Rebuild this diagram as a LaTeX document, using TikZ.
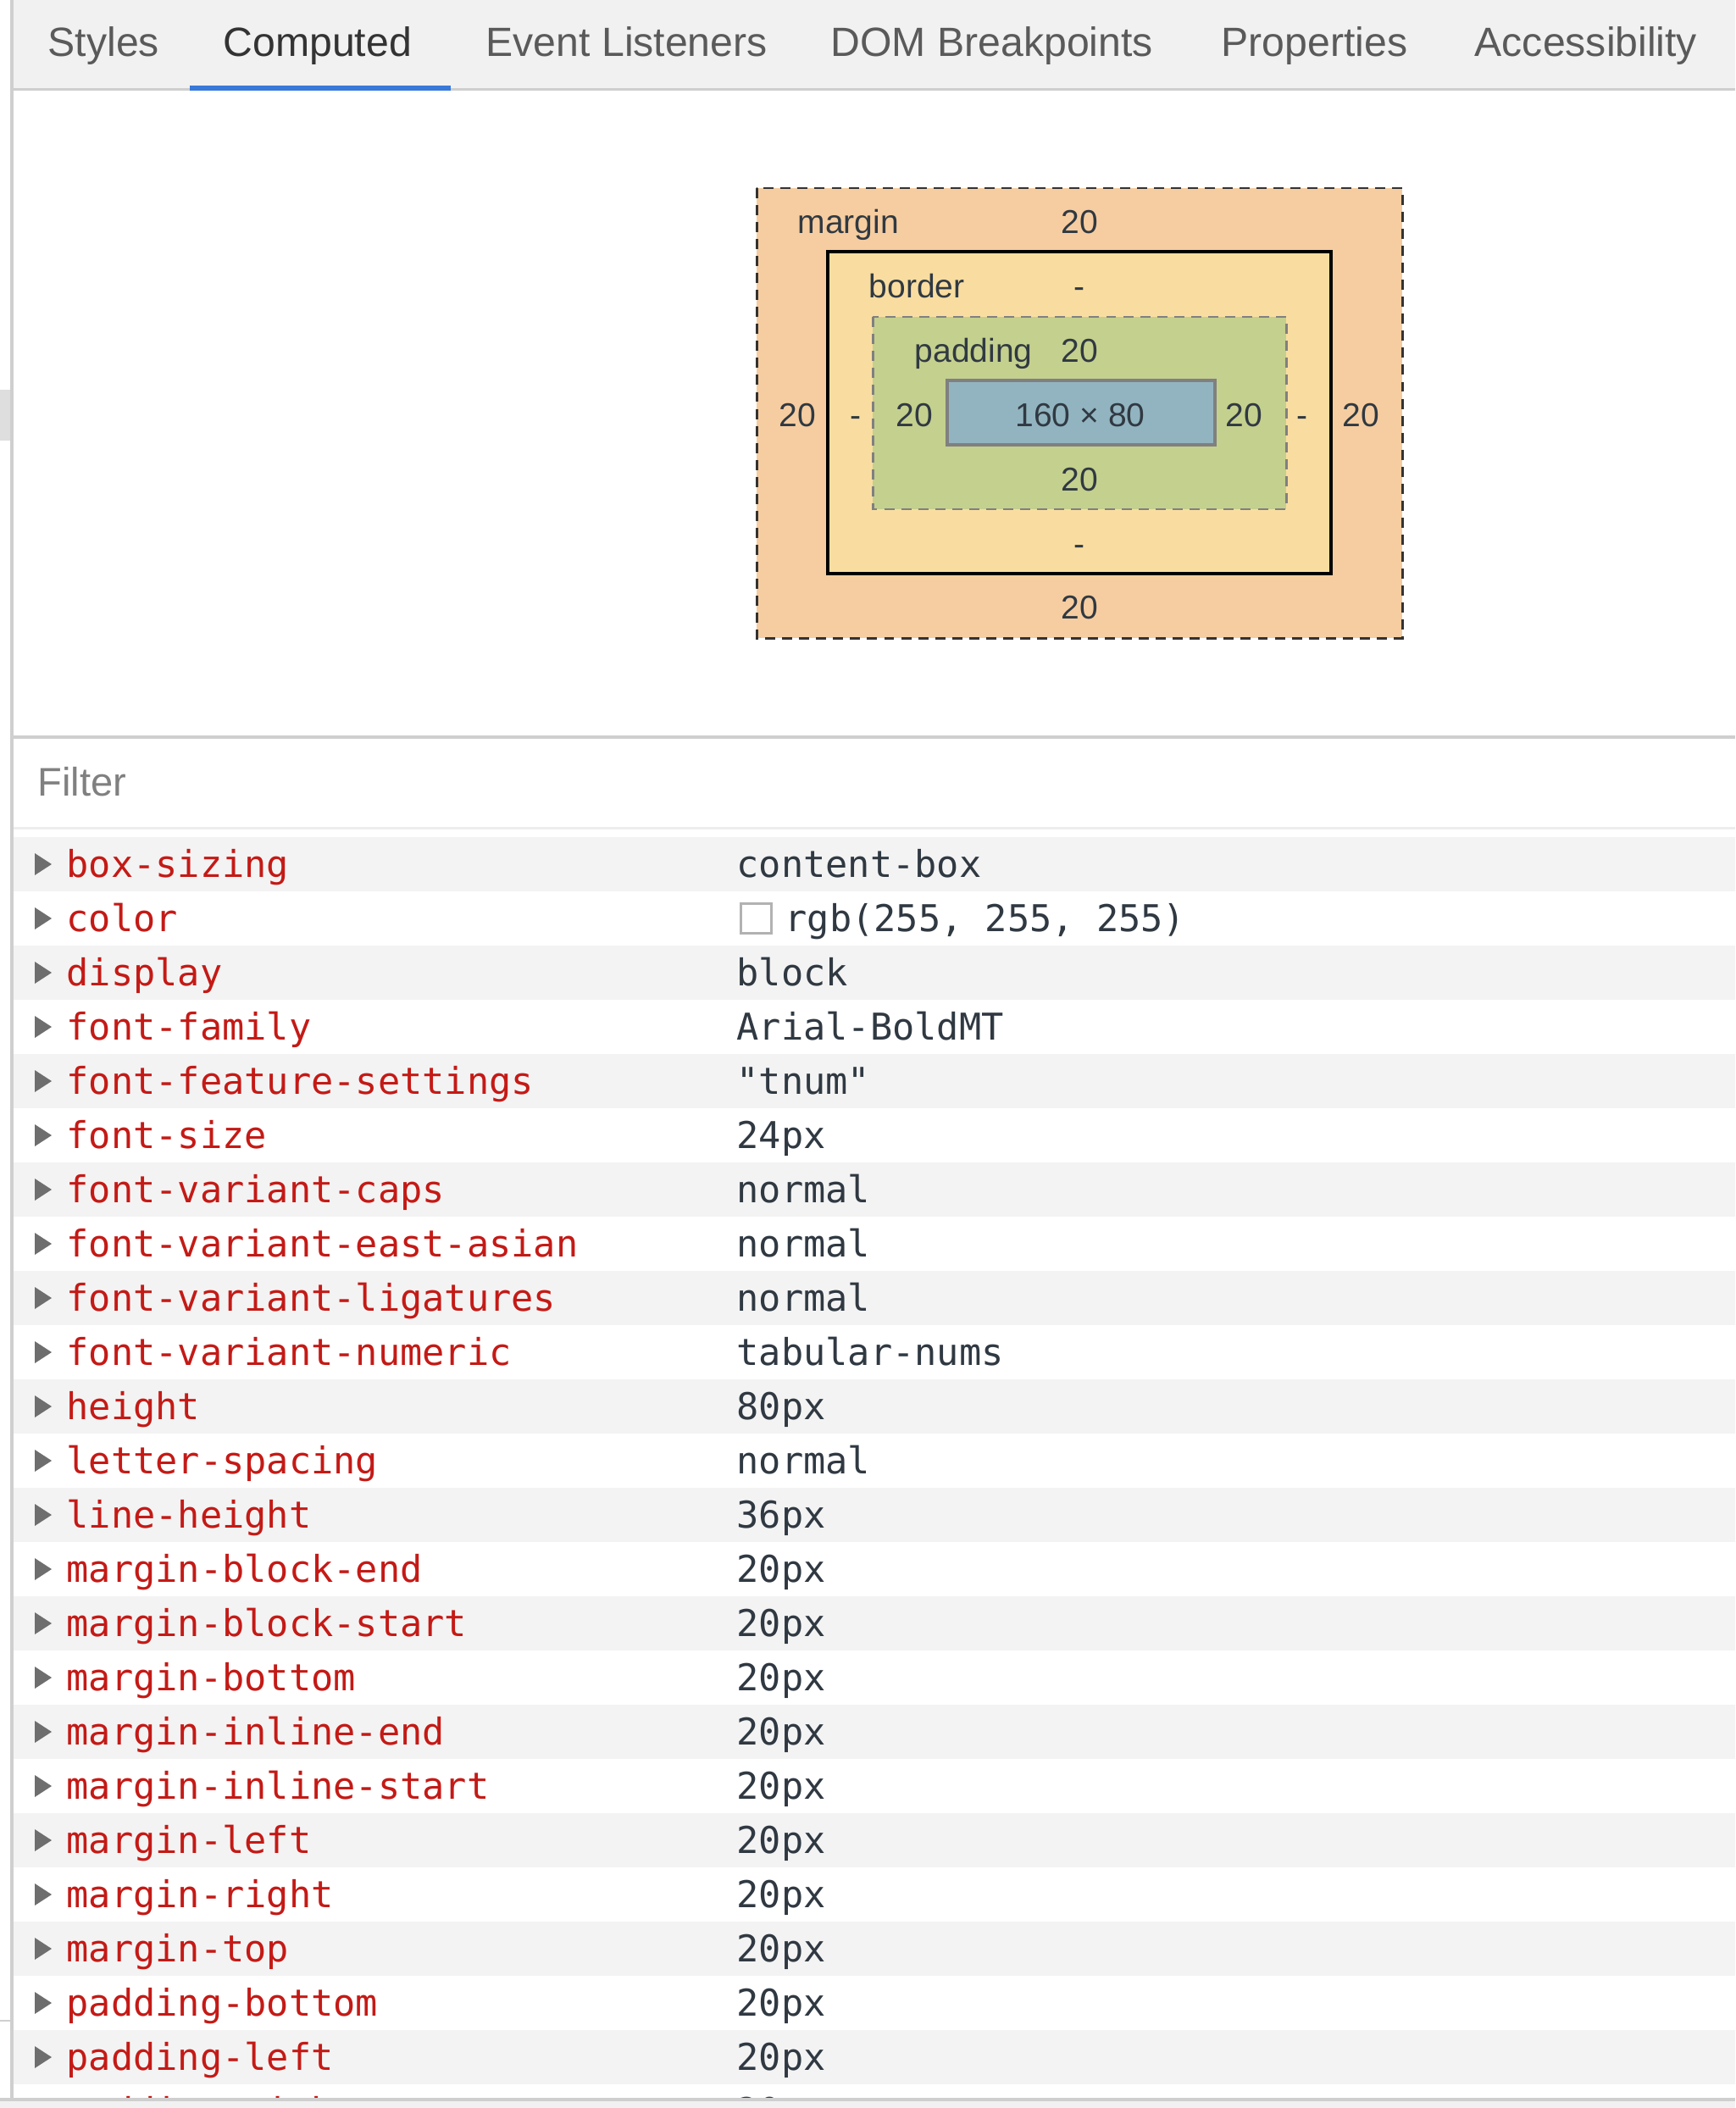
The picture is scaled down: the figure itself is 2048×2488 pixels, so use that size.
\documentclass[tikz,border=0pt]{standalone}
\usepackage{fontspec}
\setmainfont{Liberation Sans}
\setmonofont{DejaVu Sans Mono}
\definecolor{tabbg}{HTML}{F1F1F1}
\definecolor{tabtext}{HTML}{5A5A5A}
\definecolor{rulegray}{HTML}{CFCFCF}
\definecolor{tabblue}{HTML}{3879D9}
\definecolor{marginc}{HTML}{F6CDA0}
\definecolor{borderc}{HTML}{F9DDA0}
\definecolor{paddingc}{HTML}{C4D08D}
\definecolor{contentc}{HTML}{92B4C0}
\definecolor{labelc}{HTML}{303942}
\definecolor{propred}{HTML}{C41A16}
\definecolor{rowbg}{HTML}{F3F3F3}
\definecolor{trigray}{HTML}{6E6E6E}

\begin{document}
\begin{tikzpicture}[x=0.01cm, y=-0.01cm,
    tab/.style={anchor=base west, inner sep=0, text=tabtext, font=\fontsize{13.7}{16}\selectfont},
    bmlabel/.style={anchor=base, inner sep=0, text=labelc, font=\fontsize{11.1}{13}\selectfont},
    prop/.style={anchor=base west, inner sep=0, text=propred, font=\ttfamily\fontsize{12.4}{15}\selectfont},
    val/.style={prop, text=labelc}]
    \useasboundingbox (0,0) rectangle (2048,2488);
    \fill[white] (0,0) rectangle (2048,2488);

    % tab bar
    \fill[tabbg] (16,0) rectangle (2048,104);
    \fill[rulegray] (16,104) rectangle (2048,107);
    \fill[tabblue] (224,101) rectangle (532,107);
    \node[tab] (tabstyles) at (56,67) {Styles};
    \node[tab, text=black!80] (tabcomputed) at (263,67) {Computed};
    \node[tab] (tabevents) at (573,67) {Event Listeners};
    \node[tab] (tabdom) at (980,67) {DOM Breakpoints};
    \node[tab] (tabprops) at (1441,67) {Properties};
    \node[tab] (taba11y) at (1740,67) {Accessibility};

    % left edge
    \fill[rulegray] (12,0) rectangle (16,2477);
    \fill[black!13] (0,460) rectangle (12,520);
    \fill[rulegray] (0,2384) rectangle (12,2386);

    % box model
    \draw[fill=marginc, draw=black!80, line width=0.85pt, dash pattern=on 3.4pt off 2.3pt] (893,222) rectangle (1655,753);
    \draw[fill=borderc, draw=black, line width=1.1pt] (977,297) rectangle (1571,677);
    \draw[fill=paddingc, draw=black!50, line width=0.85pt, dash pattern=on 3.4pt off 2.3pt] (1030,374) rectangle (1518,601);
    \draw[fill=contentc, draw=black!50, line width=1.1pt] (1118,449) rectangle (1434,525);

    \node[bmlabel, anchor=base west] (marginlbl) at (941,275) {margin};
    \node[bmlabel] (margintop) at (1274,275) {20};
    \node[bmlabel, anchor=base west] (borderlbl) at (1025,351) {border};
    \node[bmlabel] (bordertop) at (1274,351) {-};
    \node[bmlabel, anchor=base west] (paddinglbl) at (1079,427) {padding};
    \node[bmlabel] (paddingtop) at (1274,427) {20};
    \node[bmlabel] (marginleft) at (941,503) {20};
    \node[bmlabel] (borderleft) at (1010,503) {-};
    \node[bmlabel] (paddingleft) at (1079,503) {20};
    \node[bmlabel] (contentsize) at (1275,503) {160 × 80};
    \node[bmlabel] (paddingright) at (1468,503) {20};
    \node[bmlabel] (borderright) at (1537,503) {-};
    \node[bmlabel] (marginright) at (1606,503) {20};
    \node[bmlabel] (paddingbottom) at (1274,579) {20};
    \node[bmlabel] (borderbottom) at (1274,655) {-};
    \node[bmlabel] (marginbottom) at (1274,730) {20};

    % filter
    \fill[rulegray] (16,868) rectangle (2048,872);
    \node[tab, text=black!50, font=\fontsize{13.4}{16}\selectfont] (filter) at (44,939) {Filter};
    \fill[black!7] (16,976) rectangle (2048,979);

    % computed properties
    \begin{scope}
        \clip (16,0) rectangle (2048,2476);
        \foreach \prop/\val [count=\i from 0] in {box-sizing/content-box, color/, display/block,
            font-family/Arial-BoldMT, font-feature-settings/"tnum", font-size/24px,
            font-variant-caps/normal, font-variant-east-asian/normal, font-variant-ligatures/normal,
            font-variant-numeric/tabular-nums, height/80px, letter-spacing/normal, line-height/36px,
            margin-block-end/20px, margin-block-start/20px, margin-bottom/20px, margin-inline-end/20px,
            margin-inline-start/20px, margin-left/20px, margin-right/20px, margin-top/20px,
            padding-bottom/20px, padding-left/20px, padding-right/20px} {
            \ifodd\i\else
                \fill[rowbg] (16,988+64*\i) rectangle (2048,1052+64*\i);
            \fi
            \fill[trigray] (41,1007+64*\i) -- (41,1033+64*\i) -- (61,1020+64*\i) -- cycle;
            \node[prop] (prop\i) at (78,1035+64*\i) {\prop};
            \node[val] (val\i) at (869,1035+64*\i) {\val};
        }
    \end{scope}
    \draw[fill=white, draw=black!30, line width=0.85pt] (874,1066) rectangle (910,1101);
    \node[val] (colorval) at (926,1099) {rgb(255, 255, 255)};

    % bottom edge
    \fill[rulegray] (0,2476) rectangle (2048,2480);
    \fill[tabbg] (0,2480) rectangle (2048,2488);
\end{tikzpicture}
\end{document}
